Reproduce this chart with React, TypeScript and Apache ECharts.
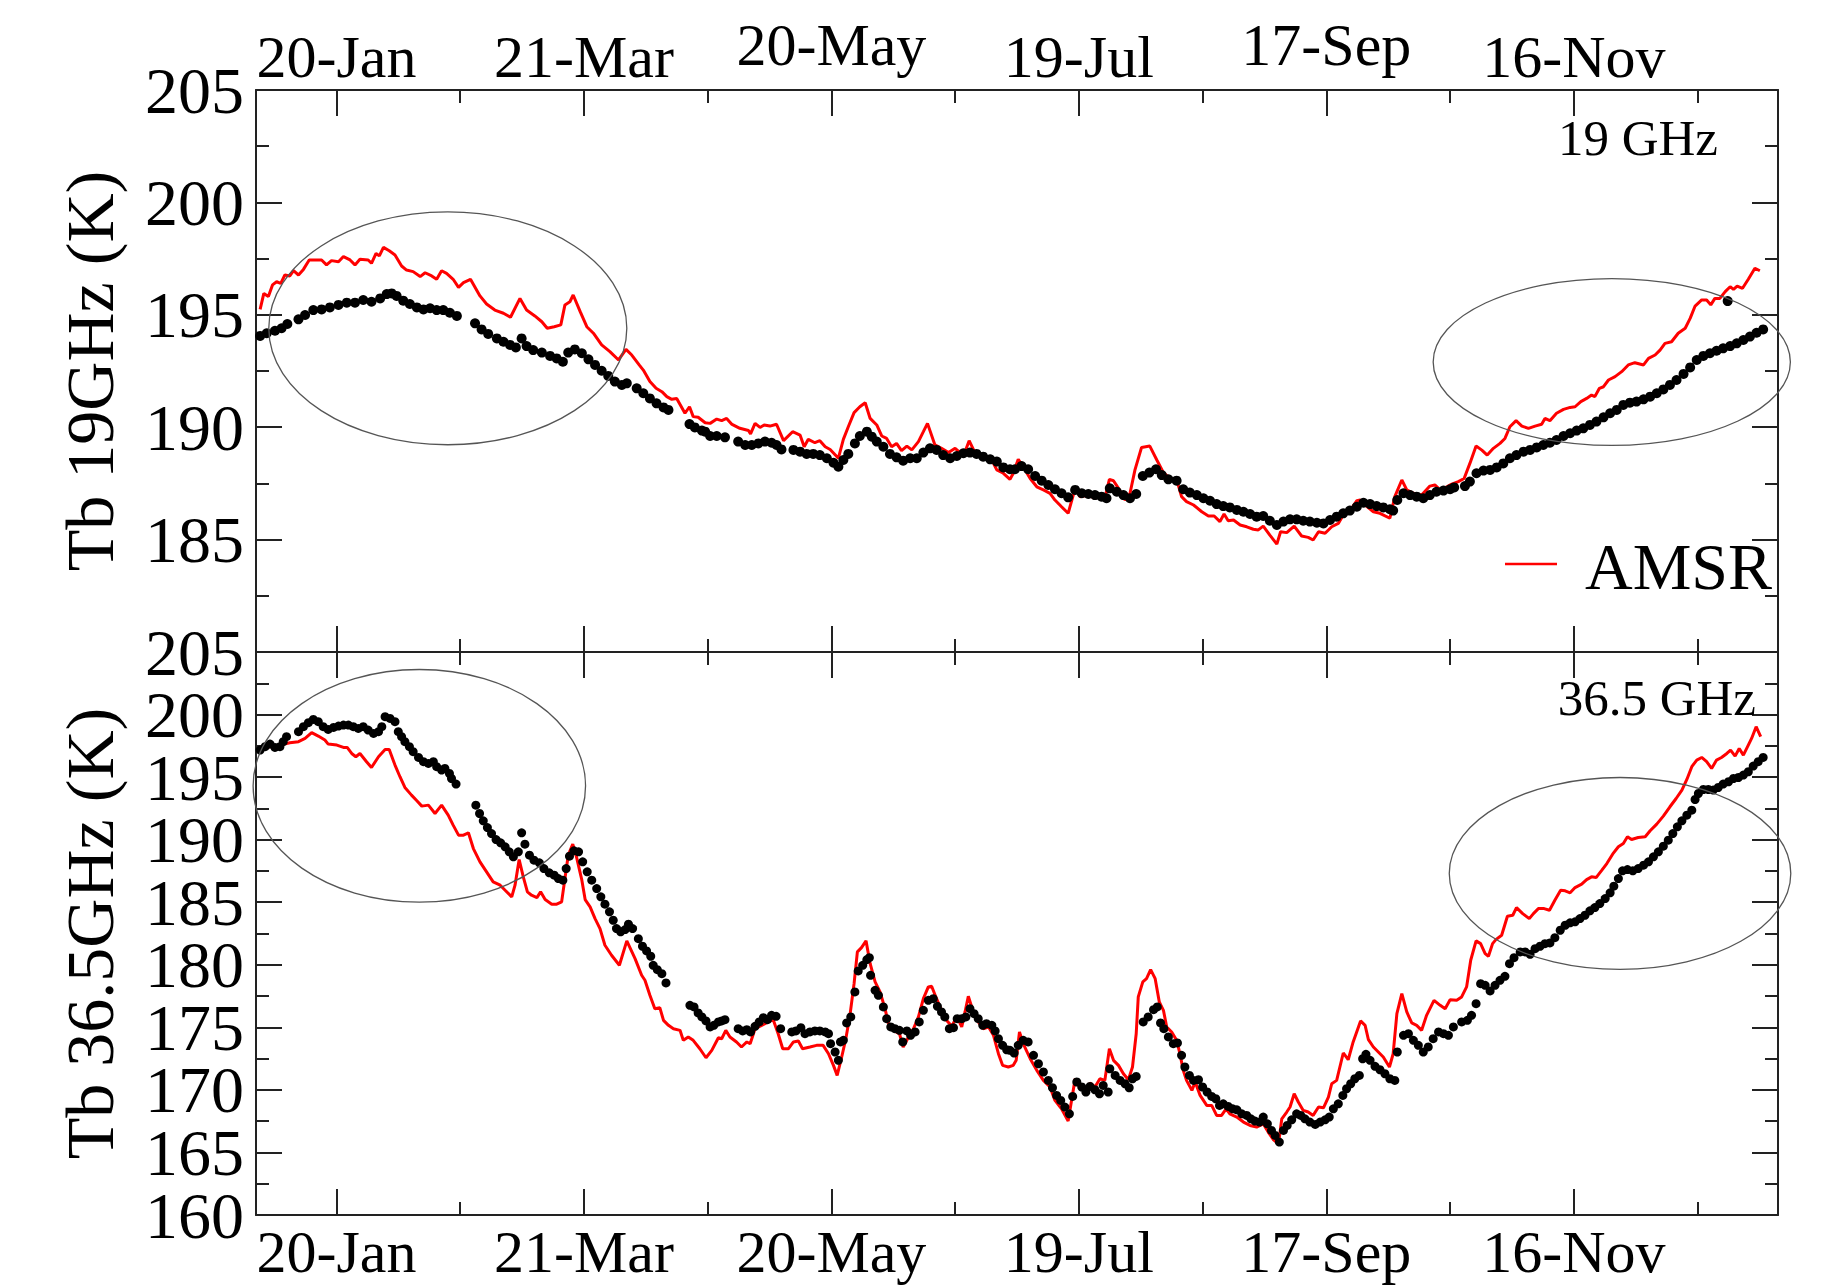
import React, { useEffect, useRef } from 'react';
import * as echarts from 'echarts';

// x axis: day of year
const X_MIN = 0.5;
const X_MAX = 369.5;
const tickDays = [20, 80, 140, 200, 260, 320];
const tickLabels = ['20-Jan', '21-Mar', '20-May', '19-Jul', '17-Sep', '16-Nov'];
const minorTickDays = [50, 110, 170, 230, 290, 350];
const raisedTopLabels = ['20-May', '17-Sep'];

// y axes
const upperRange = [180, 205];
const lowerRange = [160, 205];
const upperYLabels = [185, 190, 195, 200, 205];
const lowerYLabelsA = [160, 170, 180, 190, 200];
const lowerYLabelsB = [165, 175, 185, 195, 205];

// 19 GHz, AMSR (red line)
const amsr19 = [
  [1.5,195.24],[2.4,195.95],[3.5,195.81],[4.5,196.33],[5.5,196.47],[6.5,196.40],[7.5,196.77],[8.7,196.73],[9.6,196.96],[10.8,196.77],[12.0,197.02],[13.4,197.44],[16.4,197.44],[17.6,197.22],[18.8,197.41],[20.5,197.36],[21.7,197.59],[23.3,197.44],[24.5,197.22],[25.7,197.47],[27.7,197.44],[28.5,197.29],[29.6,197.73],[30.4,197.62],[31.4,198.00],[32.8,197.85],[34.2,197.66],[35.8,197.17],[37.0,196.99],[38.6,196.92],[40.3,196.70],[41.5,196.87],[43.1,196.73],[44.3,196.58],[45.5,196.96],[46.7,196.84],[48.3,196.58],[49.6,196.22],[50.8,196.43],[52.5,196.58],[54.8,195.84],[56.4,195.48],[58.4,195.21],[60.5,195.07],[62.2,194.89],[64.5,195.73],[66.1,195.21],[68.1,194.95],[69.8,194.69],[71.1,194.40],[72.8,194.47],[74.4,194.55],[75.4,195.44],[76.6,195.58],[77.4,195.88],[79.1,195.14],[80.7,194.47],[82.3,194.18],[84.3,193.66],[86.3,193.36],[88.4,192.99],[90.2,193.46],[91.6,193.21],[93.4,192.77],
  [94.4,192.54],[96.0,192.03],[97.5,191.73],[98.9,191.58],[100.1,191.36],[101.3,191.24],[102.5,191.28],[104.5,190.62],[105.6,190.91],[106.5,190.47],[107.7,190.44],[109.4,190.20],[110.6,190.17],[112.2,190.36],[113.4,190.29],[114.6,190.39],[115.8,190.14],[117.8,189.95],[119.9,189.85],[120.4,189.70],[121.5,190.17],[122.7,189.99],[123.7,190.10],[125.1,190.05],[126.7,190.13],[128.4,189.40],[130.6,189.80],[132.4,189.65],[133.4,189.13],[134.4,189.46],[136.0,189.31],[137.2,189.40],[138.5,189.13],[139.7,189.01],[141.7,188.62],[142.9,189.46],[144.1,190.02],[145.5,190.65],[146.9,190.91],[148.2,191.09],[149.4,190.39],[151.0,190.10],[152.2,189.61],[153.4,189.50],[154.6,189.13],[155.8,189.28],[157.0,188.96],[158.3,189.16],[159.5,188.99],[161.1,189.36],[162.3,189.80],[163.3,190.17],[165.1,189.21],[166.7,189.06],[168.4,188.87],[170.0,189.06],[171.2,188.87],[172.4,188.91],[173.4,189.40],[174.8,188.87],[176.8,188.69],[178.9,188.54],[180.1,188.10],[181.7,187.95],
  [183.3,187.68],[184.1,187.95],[185.3,188.57],[186.5,188.24],[188.2,187.72],[189.8,187.35],[191.4,187.21],[193.0,187.06],[194.2,186.76],[195.8,186.46],[197.4,186.17],[199.1,187.28],[200.3,186.91],[202.3,186.98],[203.9,186.83],[205.5,186.98],[206.3,186.83],[207.4,187.68],[208.4,187.62],[209.6,187.28],[211.2,186.76],[212.4,187.06],[213.6,188.10],[215.2,189.10],[217.2,189.16],[218.9,188.54],[220.5,187.98],[222.1,187.72],[223.7,187.68],[224.9,186.91],[226.1,186.69],[227.8,186.54],[229.8,186.24],[231.4,186.05],[232.8,186.05],[234.2,185.80],[235.2,186.14],[236.2,185.84],[237.5,185.87],[239.1,185.65],[240.7,185.57],[242.3,185.46],[243.5,185.43],[244.7,185.60],[246.3,185.20],[248.0,184.80],[248.9,185.35],[250.4,185.31],[252.2,185.60],[254.0,185.16],[255.6,185.10],[256.8,184.98],[258.1,185.35],[259.7,185.28],[261.3,185.57],[262.9,185.72],[264.1,186.09],[266.1,186.39],[267.4,186.73],[268.2,186.76],[269.4,186.54],[271.4,186.24],[273.0,186.17],
  [275.4,185.95],[276.6,186.91],[278.3,187.65],[279.5,187.21],[281.1,187.06],[283.1,186.98],[285.1,187.38],[286.3,187.43],[287.6,187.21],[289.2,187.35],[290.4,187.47],[292.0,187.58],[293.4,187.72],[294.8,188.39],[296.3,189.16],[297.7,188.98],[299.0,188.76],[300.5,189.06],[302.1,189.28],[303.3,189.50],[304.5,190.02],[306.0,190.29],[307.4,190.05],[309.0,189.95],[310.6,190.05],[312.2,190.13],[313.0,190.39],[314.2,190.29],[315.8,190.62],[317.5,190.79],[319.1,190.88],[320.3,190.91],[321.7,191.14],[323.1,191.28],[324.3,191.43],[325.1,191.36],[326.2,191.73],[327.2,191.80],[328.4,192.10],[330.0,192.25],[331.6,192.47],[333.2,192.77],[334.8,192.87],[336.9,192.77],[338.1,193.06],[339.7,193.21],[340.9,193.43],[342.1,193.73],[343.7,193.80],[345.3,194.18],[347.0,194.40],[348.2,194.84],[349.4,195.39],[351.0,195.66],[352.2,195.66],[353.2,195.44],[354.2,195.73],[355.4,195.73],[356.7,196.03],[357.9,196.25],[358.7,196.13],[359.6,196.28],[360.9,196.18],[362.3,196.58],[363.9,197.07],[365.1,196.96],
];

// 19 GHz, black dots
const dots19 = [
  [1.5,194.06],[3.1,194.18],[5.1,194.29],[6.7,194.40],[8.1,194.59],
  [10.8,194.80],[12.4,194.99],[14.4,195.21],[16.4,195.24],[18.4,195.33],[20.5,195.44],[22.5,195.54],[24.5,195.54],[26.5,195.66],[28.5,195.58],[30.6,195.73],[32.2,195.92],[33.4,195.95],[34.6,195.84],[36.2,195.63],[37.8,195.48],[39.5,195.33],[41.1,195.24],[42.7,195.29],[44.3,195.21],[45.9,195.21],[47.5,195.09],[49.2,194.95],
  [53.6,194.62],[55.2,194.35],[56.8,194.15],[58.9,193.95],[60.5,193.80],[62.1,193.66],[63.5,193.55],[64.9,193.95],[66.1,193.61],[67.7,193.43],[69.8,193.32],[71.8,193.17],[73.4,193.06],[74.9,192.91],[76.2,193.32],[77.8,193.46],[79.5,193.29],[81.1,193.02],[82.7,192.77],[84.3,192.51],[85.9,192.28],[87.5,192.03],[89.2,191.88],[90.4,191.95],
  [92.8,191.73],[94.4,191.51],[96.0,191.28],[97.6,191.06],[99.3,190.88],[100.5,190.77],
  [105.6,190.14],[106.9,189.99],[108.6,189.85],[109.4,189.80],[110.6,189.61],[112.2,189.61],[114.2,189.55],
  [117.4,189.36],[119.1,189.21],[120.7,189.21],[122.3,189.28],[123.9,189.36],[125.5,189.31],[126.7,189.21],[127.9,189.01],
  [130.8,188.99],[132.4,188.91],[134.0,188.81],[135.6,188.81],[137.2,188.76],[138.9,188.62],[140.5,188.42],[141.7,188.24],[142.9,188.54],[144.1,188.81],[145.7,189.28],[146.9,189.61],[148.6,189.80],[149.8,189.58],[151.0,189.36],[152.6,189.13],[154.2,188.81],[155.8,188.66],[157.4,188.51],[159.1,188.62],[160.7,188.62],[162.3,188.87],[163.9,189.06],[165.5,188.99],[167.1,188.76],[168.8,188.62],[170.4,188.72],[172.0,188.84],[173.6,188.87],[175.2,188.81],[176.8,188.69],[178.5,188.57],[180.1,188.47],[181.7,188.21],
  [183.3,188.13],[184.5,188.13],[186.1,188.27],[187.7,188.13],[189.4,187.83],[191.0,187.62],[192.6,187.43],[194.2,187.24],[195.8,187.06],[197.4,186.88],[199.1,187.21],[200.7,187.06],[202.3,187.03],[203.9,186.98],[205.5,186.91],[206.7,186.84],[207.5,187.28],[209.2,187.13],[210.8,186.98],[212.4,186.84],[213.9,187.03],
  [215.5,187.83],[217.1,187.98],[218.7,188.13],[220.1,187.87],[221.7,187.68],[223.7,187.62],[225.3,187.24],[226.9,187.09],[228.6,186.98],[230.2,186.84],[231.8,186.73],[233.4,186.58],[235.0,186.49],[236.6,186.43],[238.3,186.32],[239.9,186.24],[241.5,186.14],[243.1,186.02],[244.7,186.05],[246.3,185.84],[248.0,185.65],[249.6,185.80],[251.2,185.90],[252.8,185.90],[254.4,185.84],[256.0,185.80],[257.7,185.75],[259.3,185.72],[260.9,185.87],[262.5,186.02],[264.1,186.17],[265.7,186.29],[267.4,186.46],[269.0,186.64],[270.6,186.58],[272.2,186.49],[273.8,186.43],[275.4,186.35],[276.2,186.29],
  [277.2,186.76],[278.7,187.06],[280.3,186.98],[281.9,186.91],[283.5,186.84],[285.1,186.98],[286.7,187.13],[288.4,187.18],[290.0,187.24],[291.0,187.32],
  [293.6,187.38],[294.8,187.58],[296.4,187.95],[298.1,188.07],[299.7,188.10],[301.3,188.21],[302.9,188.39],[304.5,188.62],[306.1,188.76],[307.8,188.91],[309.4,188.99],[311.0,189.10],[312.6,189.21],[314.2,189.31],[315.8,189.43],[317.5,189.61],[319.1,189.73],[320.7,189.85],[322.3,189.95],[323.9,190.10],[325.5,190.25],[327.2,190.44],[328.8,190.62],[330.4,190.77],[332.0,190.99],[333.6,191.09],[335.2,191.14],[336.9,191.24],[338.5,191.36],[340.1,191.51],[341.7,191.68],[343.3,191.88],[344.9,192.10],[346.6,192.37],[348.2,192.66],[349.8,192.99],[351.4,193.17],[353.0,193.29],[354.6,193.40],[356.2,193.51],[357.3,195.61],[357.9,193.61],[359.5,193.73],[361.1,193.88],[362.7,194.03],[364.3,194.20],[365.9,194.35],
];

// 36.5 GHz, AMSR (red line)
const amsr37 = [
  [1.1,197.29],[3.9,197.43],[6.3,197.56],[8.7,197.75],[10.8,197.83],[12.4,198.09],[14.0,198.55],[15.6,198.28],[17.2,197.96],[18.0,197.64],[20.1,197.56],[21.7,197.37],[22.6,197.37],[23.7,196.89],[24.7,196.63],[25.7,196.89],[27.3,196.23],[28.5,195.77],[30.2,196.63],[31.8,197.21],[32.8,197.21],[34.2,195.96],[35.4,195.03],[36.6,194.17],[38.2,193.56],[39.5,193.11],[40.7,192.68],[42.3,192.76],[43.9,192.09],[45.5,192.76],[47.1,191.96],[48.3,191.16],[49.6,190.36],[50.8,190.36],[52.0,190.55],[53.2,189.29],[54.8,188.23],[56.4,187.43],[58.0,186.63],[59.7,186.36],[60.9,185.96],[62.5,185.43],[63.3,186.36],[64.3,188.41],[65.3,187.03],[66.3,185.83],[67.3,185.56],[68.6,185.37],[69.5,185.83],[70.6,185.21],[72.2,184.84],[73.4,184.84],[74.6,185.03],[75.4,186.89],[76.2,188.76],[77.3,189.64],[78.2,188.63],[79.5,186.76],[80.3,185.21],[81.5,184.63],[82.7,183.69],[83.9,182.89],[85.1,181.56],[86.7,180.76],[88.6,179.96],[90.4,181.91],
  [92.4,180.49],[94.0,179.16],[94.8,178.76],[96.0,177.56],[97.2,176.49],[98.4,176.57],[99.3,175.56],[100.5,175.16],[101.7,174.89],[103.3,174.76],[104.1,173.96],[105.3,174.23],[106.5,173.96],[108.1,173.29],[109.6,172.57],[111.0,173.16],[112.6,174.17],[113.4,174.09],[114.4,174.76],[115.4,174.23],[117.0,173.83],[118.2,173.43],[119.5,173.83],[120.3,173.69],[121.5,174.89],[123.1,175.16],[124.7,175.43],[125.9,175.61],[127.1,174.49],[128.2,173.29],[129.6,173.29],[130.8,173.83],[132.0,173.91],[133.0,173.29],[134.8,173.43],[136.4,173.56],[138.0,173.56],[139.3,172.89],[140.5,171.96],[141.4,171.16],[142.5,172.63],[143.5,174.09],[144.5,175.96],[145.5,178.49],[146.3,181.03],[147.3,181.37],[148.4,181.91],[149.4,180.09],[150.6,178.63],[151.8,177.83],[153.0,176.49],[153.8,175.35],[155.0,174.76],[156.5,174.49],[157.4,173.43],[158.7,174.23],[159.9,174.89],[161.1,175.83],[162.3,177.29],[163.5,178.23],[164.3,178.28],[165.5,177.29],[166.7,176.36],[167.9,175.56],[169.2,175.08],[170.4,175.88],[171.6,175.03],[172.4,176.23],[173.2,177.48],[174.4,176.23],[175.6,175.43],[176.8,174.89],[178.1,175.03],[179.3,174.36],[180.5,172.89],[181.5,171.96],[182.9,171.83],
  [184.1,171.96],[184.8,172.36],[185.6,174.63],[186.5,173.69],[188.2,172.49],[189.8,171.56],[191.4,170.76],[193.0,170.23],[194.2,169.16],[195.8,168.49],[197.4,167.51],[199.1,170.89],[200.3,170.23],[201.9,169.96],[202.7,170.55],[203.9,170.23],[205.1,170.89],[206.3,170.76],[207.4,173.29],[208.4,172.36],[209.6,171.96],[210.8,171.29],[212.0,170.81],[213.0,171.83],[213.9,174.49],[214.4,177.43],[215.5,178.63],[216.4,178.89],[217.4,179.61],[218.5,178.89],[219.5,177.03],[220.5,176.36],[221.3,175.03],[222.5,174.63],[223.7,173.96],[224.5,172.89],[225.3,171.56],[226.1,170.76],[227.4,169.96],[228.2,170.63],[229.4,169.56],[231.0,168.76],[232.2,168.76],[233.4,167.96],[234.6,167.96],[235.7,168.49],[236.6,168.09],[238.3,167.83],[239.9,167.43],[241.5,167.16],[243.1,167.03],[244.7,167.29],[245.9,166.63],[247.2,166.01],[248.4,165.69],[249.2,167.69],[250.4,168.23],[251.2,168.63],[252.2,169.69],[253.2,169.03],[254.4,168.36],[255.6,168.23],[256.8,167.96],[258.1,168.63],[259.3,168.57],[260.5,169.43],[261.3,170.49],[262.5,170.76],[264.1,172.95],[265.3,172.41],[266.5,173.83],[268.3,175.51],[269.4,175.16],[270.2,174.01],[271.4,173.43],[272.6,173.03],[273.8,172.63],[275.3,171.83],
  [276.2,172.89],[277.1,176.09],[278.3,177.69],[279.5,176.23],[280.7,175.35],[281.9,175.16],[283.1,174.76],[284.3,175.96],[286.1,177.16],[287.6,176.76],[288.8,176.49],[290.0,177.21],[291.6,177.16],[292.8,177.43],[294.0,178.23],[295.0,180.36],[296.3,181.91],[297.4,181.69],[298.5,180.89],[299.3,180.68],[300.3,181.69],[301.1,182.01],[302.5,182.36],[303.9,183.88],[305.2,183.96],[306.1,184.57],[307.6,184.09],[309.2,183.69],[310.2,184.09],[311.4,184.49],[312.8,184.49],[314.1,184.36],[315.4,185.16],[316.8,185.96],[317.9,185.91],[319.1,185.75],[320.3,186.17],[321.9,186.44],[323.1,186.81],[324.3,187.03],[325.4,186.97],[326.8,187.56],[328.0,188.09],[329.4,188.84],[330.8,189.43],[332.0,189.69],[333.0,190.23],[334.0,190.01],[335.6,190.17],[337.3,190.23],[338.5,190.71],[340.1,191.24],[341.7,191.88],[343.3,192.63],[344.8,193.29],[346.2,193.96],[347.4,194.81],[348.6,195.83],[349.8,196.36],[351.0,196.57],[352.2,196.23],[353.4,195.69],[354.6,196.36],[355.8,196.57],[357.1,196.89],[358.0,197.16],[359.1,196.68],[360.1,197.29],[361.1,196.76],[362.3,197.56],[363.1,198.09],[364.2,199.03],[365.3,198.23],
];

// 36.5 GHz, black dots
const dots37 = [
  [1.5,197.16],[2.7,197.43],[3.9,197.64],[5.1,197.37],[6.3,197.43],[7.1,197.83],[7.9,198.23],
  [10.8,198.63],[12.0,199.03],[13.2,199.35],[14.4,199.61],[15.6,199.43],[16.8,199.03],[18.0,198.81],[19.3,198.97],[20.5,199.08],[21.7,199.16],[22.9,199.16],[24.1,199.03],[25.3,198.89],[26.5,199.03],[27.7,198.76],[29.0,198.49],[30.2,198.63],[31.0,199.03],[31.8,199.83],[33.0,199.69],[34.2,199.43],[35.0,198.63],[35.8,198.23],[36.6,197.83],[37.7,197.43],[38.6,197.03],[39.9,196.57],[41.1,196.23],[42.3,196.09],[43.5,196.23],[44.3,195.83],[45.5,195.56],[46.3,195.69],[47.4,195.29],[47.9,194.89],[49.0,194.44],
  [53.8,192.76],[54.7,192.09],[55.6,191.51],[56.6,190.97],[57.6,190.49],[58.7,190.01],[59.8,189.75],[60.9,189.43],[61.9,189.03],[62.9,188.63],[64.1,189.03],[64.9,190.55],[65.7,189.64],[66.8,188.76],[67.9,188.36],[69.2,188.15],[70.3,187.69],[71.6,187.35],[72.8,187.16],[73.8,186.89],[74.9,186.76],[75.7,187.69],[76.5,188.68],[77.6,189.11],[78.7,189.03],[79.7,188.23],[80.8,187.43],[81.9,186.76],[83.1,186.09],[84.1,185.43],[85.1,184.84],[86.2,184.23],[87.1,183.56],[87.9,182.89],[88.9,182.63],[90.0,182.81],[90.8,183.24],[91.8,182.89],
  [93.2,182.09],[94.2,181.48],[95.2,181.11],[96.2,180.68],[96.8,179.96],[97.8,179.61],[98.9,179.29],[99.9,178.55],
  [105.7,176.76],[106.7,176.63],[107.7,176.15],[108.6,175.83],[109.6,175.51],[110.6,175.03],[111.5,175.16],[112.6,175.43],[113.4,175.51],[114.2,175.61],
  [117.4,174.89],[118.5,174.71],[119.5,174.81],[120.4,174.63],[121.5,175.08],[122.5,175.43],[123.5,175.77],[124.5,175.61],[125.5,175.96],[126.6,175.88],[127.7,174.89],
  [130.4,174.63],[131.4,174.71],[132.6,174.97],[133.6,174.49],[134.8,174.63],[136.0,174.71],[137.2,174.71],[138.5,174.63],[139.3,174.49],[139.8,173.69],[140.9,173.03],[141.7,172.36],[142.2,173.83],[142.9,173.96],[143.7,175.35],[144.7,175.83],[145.7,177.83],[146.5,179.51],[147.6,179.96],[148.6,180.41],[149.2,180.57],[149.5,179.16],[150.6,177.96],[151.4,177.56],[152.6,176.63],[153.4,175.69],[154.4,175.03],[155.4,174.89],[156.5,174.76],[157.3,173.83],[158.3,174.71],[159.2,174.36],[160.3,174.63],[161.3,175.43],[162.3,176.36],[163.5,177.16],[164.7,177.29],[165.7,176.68],[166.7,176.23],[167.5,175.83],[168.6,174.89],[169.6,174.97],[170.5,175.69],[171.6,175.69],[172.6,175.83],[173.6,176.49],[174.6,176.09],[175.6,175.69],[176.7,175.16],[177.6,175.29],[178.9,175.16],[179.7,174.71],[180.5,174.09],[181.5,173.56],[182.5,173.21],
  [183.3,173.16],[184.3,172.95],[185.3,173.56],[186.5,173.96],[187.7,173.83],[189.0,172.76],[190.2,172.09],[191.4,171.43],[192.6,170.76],[193.6,170.17],[194.6,169.56],[195.6,169.16],[196.6,168.63],[197.7,168.09],[198.5,169.48],[199.5,170.63],[200.7,170.23],[201.7,169.83],[202.7,170.28],[203.9,170.01],[205.0,169.69],[205.9,170.36],[207.1,169.83],[207.5,171.69],[208.8,171.16],[210.0,170.76],[211.2,170.49],[212.2,170.17],[213.0,170.89],[213.9,171.08],
  [215.6,175.43],[216.8,175.83],[218.1,176.41],[219.0,176.63],[219.8,175.35],[220.6,174.89],[221.7,174.23],[222.9,173.69],[223.9,173.75],[224.9,172.76],[225.7,171.83],[226.8,171.16],[227.8,170.76],[229.0,170.81],[230.0,170.23],[231.1,169.83],[232.2,169.48],[233.2,169.29],[234.1,168.76],[235.0,168.89],[236.2,168.68],[237.3,168.49],[238.3,168.41],[239.5,168.09],[240.7,167.96],[241.7,167.69],[242.7,167.51],[243.8,167.43],[244.7,167.83],[245.7,167.29],[246.7,166.76],[247.6,166.36],[248.6,165.83],[249.6,166.76],[250.5,167.16],[251.6,167.61],[252.8,168.09],[253.8,167.96],[254.8,167.69],[256.0,167.43],[257.3,167.24],[258.5,167.43],[259.7,167.61],[260.7,167.83],[261.7,168.49],[262.9,168.89],[264.0,169.56],[264.9,170.09],[265.9,170.49],[266.9,170.89],[268.0,171.16],[268.8,172.49],[269.6,172.84],[270.6,172.36],[271.8,171.88],[273.0,171.61],[274.2,171.29],[275.4,170.89],[276.6,170.76],
  [277.2,173.03],[278.7,174.36],[279.9,174.49],[281.1,173.96],[282.3,173.56],[283.5,173.03],[284.7,173.43],[285.9,174.09],[287.2,174.63],[288.4,174.49],[289.6,174.36],[290.8,175.03],[292.8,175.43],[294.2,175.56],[295.2,175.96],[296.3,176.89],[297.4,178.49],[298.5,178.36],[299.7,177.91],[300.9,178.36],[302.1,178.76],[303.3,179.08],[304.4,180.09],[305.5,180.57],[307.0,181.03],[308.2,181.03],[309.4,180.84],[310.6,181.29],[311.8,181.48],[313.0,181.69],[314.2,181.75],[315.4,182.17],[316.7,182.76],[317.9,183.16],[319.1,183.35],[320.3,183.43],[321.5,183.69],[322.7,183.96],[323.9,184.31],[325.1,184.57],[326.3,184.89],[327.6,185.29],[328.8,185.75],[329.7,186.28],[330.8,186.89],[331.8,187.51],[333.0,187.61],[334.3,187.51],[335.6,187.69],[336.9,187.96],[338.1,188.23],[339.3,188.63],[340.5,189.03],[341.7,189.48],[342.9,189.96],[344.0,190.49],[345.1,191.03],[346.2,191.51],[347.4,191.96],[348.6,192.36],[349.4,193.21],[350.2,193.69],[351.4,194.01],[352.6,194.01],[353.8,193.96],[355.0,194.17],[356.2,194.44],[357.5,194.63],[358.7,194.89],[359.9,194.97],[361.1,195.16],[362.3,195.43],[363.5,195.88],[364.7,196.23],[365.9,196.57],
];

// Highlight ellipses (annotation, in data units: series index, centre day, centre K, half-width days, half-height K)
const highlightEllipses = [
  { seriesIndex: 0, cx: 47, cy: 194.4, rx: 43.4, ry: 5.18 },
  { seriesIndex: 0, cx: 329.2, cy: 192.9, rx: 43.3, ry: 3.71 },
  { seriesIndex: 2, cx: 40.1, cy: 194.3, rx: 40.3, ry: 9.3 },
  { seriesIndex: 2, cx: 331.2, cy: 187.3, rx: 41.4, ry: 7.67 },
];

const FONT = '"Liberation Serif", "Times New Roman", Times, serif';
const AXIS_COLOR = '#222';

function labelFor(v: number): string {
  const i = tickDays.indexOf(Math.round(v));
  return i >= 0 ? tickLabels[i] : '';
}

function makeXAxes(gridIndex: number, labelPosition: 'top' | 'bottom') {
  const axes: any[] = [];
  (['bottom', 'top'] as const).forEach((pos) => {
    const showLabel = pos === labelPosition;
    axes.push({
      type: 'value',
      gridIndex,
      position: pos,
      min: X_MIN,
      max: X_MAX,
      axisLine: { show: true, onZero: false, lineStyle: { color: AXIS_COLOR, width: 2 } },
      axisTick: { show: true, inside: true, length: 26, customValues: tickDays, lineStyle: { color: AXIS_COLOR, width: 2 } },
      axisLabel: showLabel
        ? {
            show: true,
            customValues: tickDays,
            margin: pos === 'top' ? 3 : 7,
            color: '#000',
            fontFamily: FONT,
            fontSize: 60,
            formatter: (v: number) => {
              const t = labelFor(v);
              if (pos === 'top' && raisedTopLabels.indexOf(t) >= 0) return '{r|' + t + '}';
              return '{n|' + t + '}';
            },
            rich: {
              n: { fontFamily: FONT, fontSize: 60, color: '#000' },
              r: { fontFamily: FONT, fontSize: 60, color: '#000', padding: [0, 0, 12, 0] },
            },
          }
        : { show: false },
      splitLine: { show: false },
    });
    axes.push({
      type: 'value',
      gridIndex,
      position: pos,
      min: X_MIN,
      max: X_MAX,
      axisLine: { show: false, onZero: false },
      axisTick: { show: true, inside: true, length: 13, customValues: minorTickDays, lineStyle: { color: AXIS_COLOR, width: 2 } },
      axisLabel: { show: false },
      splitLine: { show: false },
    });
  });
  return axes;
}

const yLabelStyle = {
  show: true,
  margin: 12,
  color: '#000',
  fontFamily: FONT,
  fontSize: 66,
  hideOverlap: false,
  formatter: (v: number) => String(v),
};

function yBase(gridIndex: number, range: number[]) {
  return {
    type: 'value',
    gridIndex,
    min: range[0],
    max: range[1],
    interval: 5,
    axisLine: { show: true, onZero: false, lineStyle: { color: AXIS_COLOR, width: 2 } },
    axisTick: { show: true, inside: true, length: 26, lineStyle: { color: AXIS_COLOR, width: 2 } },
    minorTick: { show: true, splitNumber: 2, length: 13, lineStyle: { color: AXIS_COLOR, width: 2 } },
    splitLine: { show: false },
    minorSplitLine: { show: false },
  };
}

function yName(name: string) {
  return {
    name,
    nameLocation: 'middle',
    nameGap: 132,
    nameTextStyle: { fontFamily: FONT, fontSize: 68, color: '#000' },
  };
}

export default function App() {
  const ref = useRef<HTMLDivElement>(null);

  useEffect(() => {
    if (!ref.current) return;
    const chart = echarts.init(ref.current, null, { renderer: 'svg' });

    const yAxis: any[] = [
      // 0: upper left (labels + name)
      { ...yBase(0, upperRange), position: 'left', ...yName('Tb 19GHz (K)'), axisLabel: { ...yLabelStyle, customValues: upperYLabels } },
      // 1: upper right
      { ...yBase(0, upperRange), position: 'right', axisLabel: { show: false } },
      // 2: lower left (labels 160,170,... + name)
      { ...yBase(1, lowerRange), position: 'left', ...yName('Tb 36.5GHz (K)'), axisLabel: { ...yLabelStyle, customValues: lowerYLabelsA } },
      // 3: lower right
      { ...yBase(1, lowerRange), position: 'right', axisLabel: { show: false } },
      // 4: lower left, labels 165,175,... only
      {
        ...yBase(1, lowerRange),
        position: 'left',
        axisLine: { show: false, onZero: false },
        axisTick: { show: false },
        minorTick: { show: false },
        axisLabel: { ...yLabelStyle, customValues: lowerYLabelsB },
      },
    ];

    const option: any = {
      animation: false,
      backgroundColor: '#fff',
      textStyle: { fontFamily: FONT },
      grid: [
        { left: 256, top: 90, width: 1522, height: 562, containLabel: false, outerBoundsMode: 'none' },
        { left: 256, top: 652, width: 1522, height: 563, containLabel: false, outerBoundsMode: 'none' },
      ],
      xAxis: [...makeXAxes(0, 'top'), ...makeXAxes(1, 'bottom')],
      yAxis,
      series: [
        {
          type: 'line',
          name: 'AMSR',
          xAxisIndex: 0,
          yAxisIndex: 0,
          data: amsr19,
          showSymbol: false,
          symbol: 'none',
          lineStyle: { color: '#ff0000', width: 3 },
          itemStyle: { color: '#ff0000' },
          z: 2,
        },
        {
          type: 'scatter',
          name: 'Reference 19 GHz',
          xAxisIndex: 0,
          yAxisIndex: 0,
          data: dots19,
          symbol: 'circle',
          symbolSize: 10,
          itemStyle: { color: '#000', opacity: 1 },
          z: 3,
        },
        {
          type: 'line',
          name: 'AMSR',
          xAxisIndex: 4,
          yAxisIndex: 2,
          data: amsr37,
          showSymbol: false,
          symbol: 'none',
          lineStyle: { color: '#ff0000', width: 3 },
          itemStyle: { color: '#ff0000' },
          z: 2,
        },
        {
          type: 'scatter',
          name: 'Reference 36.5 GHz',
          xAxisIndex: 4,
          yAxisIndex: 2,
          data: dots37,
          symbol: 'circle',
          symbolSize: 9,
          itemStyle: { color: '#000', opacity: 1 },
          z: 3,
        },
      ],
    };

    chart.setOption(option);

    const ellipseGraphics = highlightEllipses.map((e) => {
      const c = chart.convertToPixel({ seriesIndex: e.seriesIndex }, [e.cx, e.cy]) as number[];
      const p = chart.convertToPixel({ seriesIndex: e.seriesIndex }, [e.cx + e.rx, e.cy + e.ry]) as number[];
      return {
        type: 'ellipse',
        silent: true,
        z: 10,
        shape: { cx: c[0], cy: c[1], rx: Math.abs(p[0] - c[0]), ry: Math.abs(p[1] - c[1]) },
        style: { fill: 'none', stroke: '#555', lineWidth: 1.3 },
      };
    });

    const textGraphics = [
      {
        type: 'text',
        x: 1718,
        y: 138,
        z: 10,
        style: {
          text: '19 GHz', fontFamily: FONT, fontSize: 51, fill: '#000',
          align: 'right', textAlign: 'right', verticalAlign: 'middle', textVerticalAlign: 'middle',
        },
      },
      {
        type: 'text',
        x: 1756,
        y: 698,
        z: 10,
        style: {
          text: '36.5 GHz', fontFamily: FONT, fontSize: 51, fill: '#000',
          align: 'right', textAlign: 'right', verticalAlign: 'middle', textVerticalAlign: 'middle',
        },
      },
      {
        type: 'line',
        z: 10,
        shape: { x1: 1505, y1: 564, x2: 1557, y2: 564 },
        style: { stroke: '#ff0000', lineWidth: 2.6 },
      },
      {
        type: 'text',
        x: 1585,
        y: 566,
        z: 10,
        style: {
          text: 'AMSR', fontFamily: FONT, fontSize: 66, fill: '#000',
          align: 'left', textAlign: 'left', verticalAlign: 'middle', textVerticalAlign: 'middle',
        },
      },
    ];

    chart.setOption({ graphic: [...textGraphics, ...ellipseGraphics] });

    return () => {
      chart.dispose();
    };
  }, []);

  return (
    <div
      ref={ref}
      style={{ position: 'fixed', left: 0, top: 0, width: '1826px', height: '1285px', background: '#fff' }}
    />
  );
}
